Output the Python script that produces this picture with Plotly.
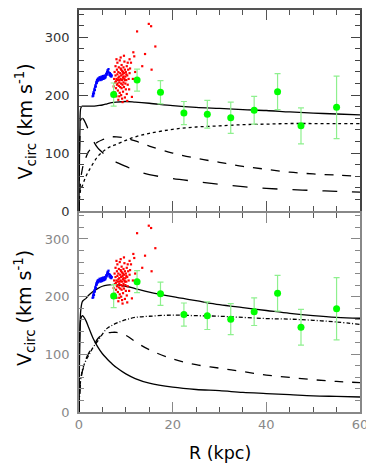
import plotly.graph_objects as go
from plotly.subplots import make_subplots

# observed points (same in both panels)
obs_r = [7.4, 12.4, 17.4, 22.4, 27.4, 32.4, 37.4, 42.4, 47.4, 55.0]
obs_v = [201, 226, 205, 169, 167, 161, 174, 206, 147, 179]
obs_err = [20, 19, 20, 20, 24, 27, 24, 31, 31, 54]

# inner tracers (blue)
blue_r = [2.9, 3.0, 3.05, 3.1, 3.2, 3.25, 3.3, 3.4, 3.45, 3.5, 3.6, 3.65, 3.7,
          3.8, 3.85, 3.9, 4.0, 4.1, 4.15, 4.3, 4.4, 4.5, 4.6, 4.7, 4.8, 4.9,
          5.0, 5.1, 5.2, 5.3, 5.4, 5.5, 5.6, 5.7, 5.8, 5.9, 6.0, 6.05, 6.1,
          6.2, 6.3, 6.4, 6.5, 6.6, 6.7, 6.8, 6.9, 7.0]
blue_v = [198, 202, 199, 205, 203, 208, 211, 209, 214, 217, 215, 220, 223,
          221, 226, 224, 228, 225, 229, 227, 231, 228, 226, 230, 232, 227,
          230, 233, 228, 231, 229, 234, 230, 232, 237, 235, 240, 237, 243,
          241, 245, 239, 235, 238, 233, 236, 232, 234]

# red tracers
red_r = [12.4, 14.9, 15.4, 16.3, 11.6, 14.1, 11.8, 13.5, 15.5, 11.3, 10.3, 11.1,
         10.8, 12.0, 11.5, 10.9,
         7.4, 7.5, 7.6, 7.6, 7.7, 7.8, 7.8, 7.9, 8.0, 8.0, 8.1, 8.1, 8.2, 8.2,
         8.3, 8.3, 8.4, 8.4, 8.5, 8.5, 8.6, 8.6, 8.7, 8.7, 8.8, 8.8, 8.9, 8.9,
         9.0, 9.0, 9.0, 9.1, 9.1, 9.2, 9.2, 9.3, 9.3, 9.3, 9.4, 9.4, 9.5, 9.5,
         9.6, 9.6, 9.7, 9.7, 9.8, 9.8, 9.9, 9.9, 10.0, 10.0, 10.1, 10.2, 10.2,
         10.3, 10.4, 10.5, 10.6, 10.7, 10.8, 8.0, 8.9, 9.6, 9.2, 8.6, 7.9, 8.4,
         9.4, 10.1, 9.0, 8.2, 8.7, 9.5, 9.8, 10.4]
red_v = [310, 323, 319, 284, 274, 271, 267, 250, 244, 197, 190, 256,
         262, 240, 228, 246,
         215, 228, 240, 205, 222, 234, 250, 212, 198, 228, 244, 218, 236, 256,
         208, 226, 240, 192, 216, 248, 232, 222, 260, 204, 238, 214, 228, 246,
         220, 200, 234, 252, 212, 226, 242, 218, 236, 188, 230, 206, 248, 222,
         214, 238, 228, 258, 196, 244, 220, 232, 210, 240, 226, 250, 202,
         234, 218, 244, 228, 210, 238, 262, 265, 268, 194, 198, 224, 230,
         240, 236, 244, 220, 226, 232, 226, 256]

# model curves
r_grid = [0, 0.2, 0.4, 0.7, 1, 1.5, 2, 3, 4, 5, 6, 7, 8, 10, 12, 15, 20, 25,
          30, 35, 40, 45, 50, 55, 60]
top_total = [0, 140, 178, 181, 181, 181, 181, 181, 182, 183, 185, 187, 188, 189,
             188, 186, 182, 179, 177, 175, 173.5, 171, 169, 167.5, 166]
top_bulge = [0, 130, 158, 160, 158, 150, 140, 122, 109, 101, 94, 88, 84, 77,
             70, 63, 56, 51, 46, 42, 39, 37, 35.5, 34, 32.5]
top_disk = [0, 35, 57, 72, 82, 93, 102, 112, 119, 123, 126, 128, 128, 126,
            121, 112, 100, 91, 84, 77, 72, 67, 64, 62, 60]
top_halo = [0, 30, 38, 43, 50, 60, 68, 82, 94, 102, 108, 112, 115, 122,
            128, 134, 141, 145, 147, 149, 150, 151, 151, 151, 151]

bot_total = [0, 150, 178, 191, 194, 197, 202, 209, 214, 218, 220, 221, 221, 218,
             214, 208, 200, 193, 186, 181, 176, 171, 167, 164, 162.5]
bot_bulge = [0, 130, 162, 167, 165, 158, 148, 128, 113, 101, 92, 84, 77, 66,
             58, 50, 43, 39, 37, 34, 32, 30, 28, 27, 26]
bot_disk = [0, 35, 55, 70, 78, 92, 101, 113, 127, 134, 137, 138, 138, 133,
            122, 108, 92, 82, 76, 70, 64, 60, 56, 53, 51]
bot_halo = [0, 42, 58, 72, 80, 90, 97, 112, 123, 135, 145, 150, 154, 160,
            164, 166, 168, 167, 166, 164, 162, 161, 159, 156, 152]

FONT = "DejaVu Sans"

fig = make_subplots(rows=2, cols=1, shared_xaxes=False, vertical_spacing=0.005)

panels = [
    (1, top_total, top_bulge, top_disk, top_halo, "solid", "longdash", "dash", "dot"),
    (2, bot_total, bot_bulge, bot_disk, bot_halo, "solid", "solid", "dash", "4px,2px,1px,2px"),
]
for row, tot, bul, dsk, hal, d_tot, d_bul, d_dsk, d_hal in panels:
    for ys, dash in [(tot, d_tot), (bul, d_bul), (dsk, d_dsk), (hal, d_hal)]:
        fig.add_trace(go.Scatter(x=r_grid, y=ys, mode="lines", line_shape="spline",
                                 line=dict(color="black", width=1.3, dash=dash)),
                      row=row, col=1)
    fig.add_trace(go.Scatter(x=blue_r, y=blue_v, mode="markers",
                             marker=dict(color="blue", size=2.2, symbol="square")),
                  row=row, col=1)
    fig.add_trace(go.Scatter(x=red_r, y=red_v, mode="markers",
                             marker=dict(color="red", size=2.2, symbol="square")),
                  row=row, col=1)
    fig.add_trace(go.Scatter(x=obs_r, y=obs_v, mode="markers",
                             marker=dict(color="#00ff00", size=7),
                             error_y=dict(type="data", array=obs_err, color="#8ef08e",
                                          thickness=1.2, width=3)),
                  row=row, col=1)

axis_common = dict(showgrid=False, zeroline=False, showline=True, mirror="ticks",
                   ticks="inside")

fig.update_xaxes(range=[0, 60], dtick=20, ticklen=10, tickwidth=1.2,
                 minor=dict(dtick=5, ticklen=5, ticks="inside", tickcolor="#555"),
                 **axis_common)
fig.update_xaxes(showticklabels=False, linecolor="#555", linewidth=1.5,
                 tickcolor="#555", row=1, col=1)
fig.update_xaxes(linecolor="#888", linewidth=1.5, tickcolor="#888",
                 tickfont=dict(family=FONT, size=13, color="#888"), row=2, col=1)

fig.update_yaxes(dtick=100, ticklen=9, tickwidth=1.2, ticklabelstandoff=5,
                 minor=dict(dtick=20, ticklen=5, ticks="inside"), **axis_common)
fig.update_yaxes(range=[0, 347], domain=[0.5, 1.0], linecolor="#444",
                 linewidth=1.5, tickcolor="#444", minor_tickcolor="#444",
                 tickfont=dict(family=FONT, size=13, color="#333"), row=1, col=1)
fig.update_yaxes(range=[0, 345], domain=[0.0, 0.495], linecolor="#888",
                 linewidth=1.5, tickcolor="#888", minor_tickcolor="#888",
                 tickfont=dict(family=FONT, size=13, color="#888"), row=2, col=1)

ytitle = "V<sub>circ</sub> (km s<sup>-1</sup>)"
for yc in [0.723, 0.259]:
    fig.add_annotation(text=ytitle, xref="paper", yref="paper", x=-0.192, y=yc,
                       xanchor="center", yanchor="middle",
                       textangle=-90, showarrow=False,
                       font=dict(family=FONT, size=19, color="black"))
fig.add_annotation(text="R (kpc)", xref="paper", yref="paper", x=0.5, y=-0.101,
                   xanchor="center", yanchor="middle", showarrow=False,
                   font=dict(family=FONT, size=17.5, color="black"))

# page body keeps an 8px margin, so the figure is a bit smaller than the window
fig.update_layout(width=366, height=457, showlegend=False,
                  plot_bgcolor="white", paper_bgcolor="white",
                  margin=dict(l=71, r=14, t=0, b=53),
                  font=dict(family=FONT))

fig.write_html("out.html")
